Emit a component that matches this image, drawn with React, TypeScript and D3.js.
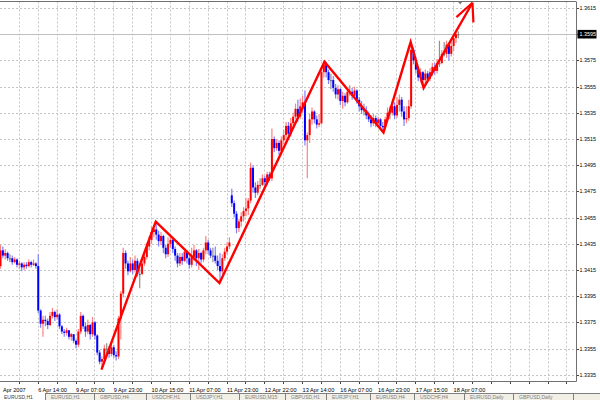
import React from "react";
import * as d3 from "d3";

// ---- data (EURUSD H1) ----
const opens = [
  1.3418, 1.3430, 1.3426, 1.3428, 1.3424, 1.3424, 1.3421, 1.3423, 1.3419, 1.3420,
  1.3417, 1.3419, 1.3418, 1.3421, 1.3419, 1.3420, 1.3418, 1.3384, 1.3374, 1.3377,
  1.3376, 1.3373, 1.3380, 1.3383, 1.3379, 1.3381, 1.3372, 1.3368, 1.3367, 1.3369,
  1.3364, 1.3366, 1.3361, 1.3358, 1.3368, 1.3380, 1.3372, 1.3368, 1.3373, 1.3366,
  1.3375, 1.3365, 1.3352, 1.3345, 1.3347, 1.3355, 1.3355, 1.3351, 1.3356, 1.3350,
  1.3349, 1.3378, 1.3397, 1.3428, 1.3420, 1.3414, 1.3420, 1.3415, 1.3422, 1.3412,
  1.3412, 1.3420, 1.3425, 1.3433, 1.3438, 1.3444, 1.3446, 1.3442, 1.3437, 1.3441,
  1.3432, 1.3427, 1.3435, 1.3438, 1.3431, 1.3426, 1.3420, 1.3425, 1.3422, 1.3429,
  1.3424, 1.3419, 1.3425, 1.3430, 1.3424, 1.3428, 1.3423, 1.3430, 1.3436, 1.3430,
  1.3426, 1.3426, 1.3422, 1.3418, 1.3414, 1.3424, 1.3429, 1.3433, 1.3472, 1.3466,
  1.3458, 1.3447, 1.3452, 1.3456, 1.3460, 1.3462, 1.3468, 1.3493, 1.3478, 1.3474,
  1.3480, 1.3480, 1.3485, 1.3482, 1.3488, 1.3485, 1.3515, 1.3508, 1.3512, 1.3506,
  1.3514, 1.3518, 1.3525, 1.3519, 1.3527, 1.3532, 1.3538, 1.3532, 1.3540, 1.3543,
  1.3514, 1.3518, 1.3530, 1.3536, 1.3530, 1.3526, 1.3527, 1.3566, 1.3572, 1.3566,
  1.3560, 1.3560, 1.3554, 1.3549, 1.3553, 1.3544, 1.3548, 1.3543, 1.3551, 1.3551,
  1.3548, 1.3552, 1.3545, 1.3540, 1.3537, 1.3537, 1.3533, 1.3530, 1.3527, 1.3531,
  1.3527, 1.3530, 1.3525, 1.3524, 1.3530, 1.3535, 1.3535, 1.3540, 1.3533, 1.3541,
  1.3545, 1.3536, 1.3530, 1.3531, 1.3540, 1.3583, 1.3575, 1.3568, 1.3562, 1.3566,
  1.3560, 1.3565, 1.3561, 1.3566, 1.3570, 1.3567, 1.3573, 1.3573, 1.3580, 1.3580,
  1.3587, 1.3580, 1.3586, 1.3592, 1.3595,
];
const highs = [
  1.3434, 1.3433, 1.3431, 1.3429, 1.3427, 1.3426, 1.3425, 1.3424, 1.3422, 1.3421,
  1.3421, 1.3421, 1.3423, 1.3422, 1.3423, 1.3421, 1.3427, 1.3385, 1.3380, 1.3380,
  1.3378, 1.3383, 1.3386, 1.3384, 1.3385, 1.3382, 1.3373, 1.3370, 1.3371, 1.3369,
  1.3367, 1.3366, 1.3362, 1.3370, 1.3383, 1.3381, 1.3375, 1.3377, 1.3374, 1.3379,
  1.3376, 1.3366, 1.3354, 1.3349, 1.3358, 1.3359, 1.3357, 1.3360, 1.3358, 1.3353,
  1.3380, 1.3399, 1.3432, 1.3430, 1.3422, 1.3425, 1.3423, 1.3426, 1.3424, 1.3417,
  1.3424, 1.3428, 1.3436, 1.3441, 1.3448, 1.3449, 1.3452, 1.3445, 1.3444, 1.3442,
  1.3434, 1.3440, 1.3441, 1.3439, 1.3433, 1.3428, 1.3428, 1.3428, 1.3431, 1.3430,
  1.3426, 1.3432, 1.3434, 1.3431, 1.3431, 1.3429, 1.3432, 1.3441, 1.3438, 1.3432,
  1.3432, 1.3433, 1.3426, 1.3428, 1.3427, 1.3432, 1.3436, 1.3440, 1.3477, 1.3468,
  1.3460, 1.3454, 1.3459, 1.3463, 1.3470, 1.3470, 1.3497, 1.3495, 1.3482, 1.3483,
  1.3485, 1.3488, 1.3487, 1.3490, 1.3490, 1.3523, 1.3517, 1.3515, 1.3514, 1.3517,
  1.3522, 1.3528, 1.3528, 1.3531, 1.3535, 1.3542, 1.3545, 1.3546, 1.3548, 1.3552,
  1.3520, 1.3534, 1.3539, 1.3537, 1.3533, 1.3534, 1.3570, 1.3575, 1.3574, 1.3568,
  1.3565, 1.3563, 1.3557, 1.3556, 1.3554, 1.3551, 1.3550, 1.3554, 1.3556, 1.3554,
  1.3555, 1.3553, 1.3547, 1.3544, 1.3542, 1.3540, 1.3536, 1.3533, 1.3534, 1.3533,
  1.3532, 1.3531, 1.3528, 1.3532, 1.3539, 1.3540, 1.3544, 1.3543, 1.3547, 1.3549,
  1.3547, 1.3540, 1.3540, 1.3545, 1.3589, 1.3585, 1.3578, 1.3570, 1.3569, 1.3567,
  1.3568, 1.3567, 1.3569, 1.3573, 1.3573, 1.3576, 1.3590, 1.3583, 1.3589, 1.3590,
  1.3588, 1.3589, 1.3595, 1.3597, 1.3597,
];
const lows = [
  1.3416, 1.3424, 1.3423, 1.3422, 1.3421, 1.3419, 1.3420, 1.3417, 1.3416, 1.3414,
  1.3415, 1.3416, 1.3417, 1.3417, 1.3418, 1.3416, 1.3382, 1.3371, 1.3364, 1.3372,
  1.3370, 1.3372, 1.3378, 1.3376, 1.3377, 1.3370, 1.3366, 1.3364, 1.3365, 1.3362,
  1.3361, 1.3359, 1.3355, 1.3356, 1.3366, 1.3370, 1.3364, 1.3366, 1.3362, 1.3364,
  1.3362, 1.3350, 1.3343, 1.3339, 1.3344, 1.3351, 1.3348, 1.3349, 1.3348, 1.3346,
  1.3347, 1.3362, 1.3394, 1.3416, 1.3411, 1.3413, 1.3412, 1.3413, 1.3410, 1.3401,
  1.3411, 1.3418, 1.3423, 1.3430, 1.3435, 1.3440, 1.3438, 1.3433, 1.3434, 1.3428,
  1.3424, 1.3425, 1.3432, 1.3428, 1.3422, 1.3417, 1.3418, 1.3419, 1.3421, 1.3420,
  1.3416, 1.3417, 1.3422, 1.3418, 1.3415, 1.3420, 1.3421, 1.3427, 1.3427, 1.3424,
  1.3421, 1.3420, 1.3415, 1.3405, 1.3412, 1.3422, 1.3427, 1.3431, 1.3463, 1.3455,
  1.3443, 1.3444, 1.3448, 1.3452, 1.3456, 1.3457, 1.3466, 1.3474, 1.3470, 1.3472,
  1.3477, 1.3479, 1.3479, 1.3480, 1.3483, 1.3483, 1.3505, 1.3506, 1.3503, 1.3504,
  1.3511, 1.3515, 1.3516, 1.3517, 1.3523, 1.3530, 1.3528, 1.3530, 1.3535, 1.3510,
  1.3485, 1.3512, 1.3526, 1.3527, 1.3523, 1.3524, 1.3526, 1.3562, 1.3562, 1.3557,
  1.3553, 1.3551, 1.3546, 1.3545, 1.3541, 1.3538, 1.3540, 1.3542, 1.3548, 1.3545,
  1.3546, 1.3542, 1.3536, 1.3534, 1.3533, 1.3530, 1.3528, 1.3524, 1.3525, 1.3524,
  1.3524, 1.3523, 1.3520, 1.3522, 1.3528, 1.3530, 1.3533, 1.3530, 1.3531, 1.3536,
  1.3532, 1.3525, 1.3527, 1.3529, 1.3538, 1.3572, 1.3565, 1.3559, 1.3558, 1.3555,
  1.3557, 1.3558, 1.3559, 1.3563, 1.3564, 1.3565, 1.3570, 1.3572, 1.3578, 1.3577,
  1.3575, 1.3578, 1.3582, 1.3588, 1.3592,
];
const closes = [
  1.3430, 1.3426, 1.3428, 1.3424, 1.3424, 1.3421, 1.3423, 1.3419, 1.3420, 1.3417,
  1.3419, 1.3418, 1.3421, 1.3419, 1.3420, 1.3418, 1.3384, 1.3374, 1.3377, 1.3376,
  1.3373, 1.3380, 1.3383, 1.3379, 1.3381, 1.3372, 1.3368, 1.3367, 1.3369, 1.3364,
  1.3366, 1.3361, 1.3358, 1.3368, 1.3380, 1.3372, 1.3368, 1.3373, 1.3366, 1.3375,
  1.3365, 1.3352, 1.3345, 1.3347, 1.3355, 1.3355, 1.3351, 1.3356, 1.3350, 1.3349,
  1.3378, 1.3397, 1.3428, 1.3420, 1.3414, 1.3420, 1.3415, 1.3422, 1.3412, 1.3412,
  1.3420, 1.3425, 1.3433, 1.3438, 1.3444, 1.3446, 1.3442, 1.3437, 1.3441, 1.3432,
  1.3427, 1.3435, 1.3438, 1.3431, 1.3426, 1.3420, 1.3425, 1.3422, 1.3429, 1.3424,
  1.3419, 1.3425, 1.3430, 1.3424, 1.3428, 1.3423, 1.3430, 1.3436, 1.3430, 1.3426,
  1.3426, 1.3422, 1.3418, 1.3414, 1.3424, 1.3429, 1.3433, 1.3436, 1.3466, 1.3458,
  1.3447, 1.3452, 1.3456, 1.3460, 1.3462, 1.3468, 1.3493, 1.3478, 1.3474, 1.3480,
  1.3480, 1.3485, 1.3482, 1.3488, 1.3485, 1.3515, 1.3508, 1.3512, 1.3506, 1.3514,
  1.3518, 1.3525, 1.3519, 1.3527, 1.3532, 1.3538, 1.3532, 1.3540, 1.3543, 1.3514,
  1.3518, 1.3530, 1.3536, 1.3530, 1.3526, 1.3527, 1.3566, 1.3572, 1.3566, 1.3560,
  1.3560, 1.3554, 1.3549, 1.3553, 1.3544, 1.3548, 1.3543, 1.3551, 1.3551, 1.3548,
  1.3552, 1.3545, 1.3540, 1.3537, 1.3537, 1.3533, 1.3530, 1.3527, 1.3531, 1.3527,
  1.3530, 1.3525, 1.3524, 1.3530, 1.3535, 1.3535, 1.3540, 1.3533, 1.3541, 1.3545,
  1.3536, 1.3530, 1.3531, 1.3540, 1.3583, 1.3575, 1.3568, 1.3562, 1.3566, 1.3560,
  1.3565, 1.3561, 1.3566, 1.3570, 1.3567, 1.3573, 1.3573, 1.3580, 1.3580, 1.3587,
  1.3580, 1.3586, 1.3592, 1.3595, 1.3595,
];

const priceTicks = [
  1.3335, 1.3355, 1.3375, 1.3395, 1.3415, 1.3435, 1.3455, 1.3475,
  1.3495, 1.3515, 1.3535, 1.3555, 1.3575, 1.3595, 1.3615,
];
const dateLabels = [
  "Apr 2007", "6 Apr 14:00", "9 Apr 07:00", "9 Apr 23:00", "10 Apr 15:00",
  "11 Apr 07:00", "11 Apr 23:00", "12 Apr 22:00", "13 Apr 14:00",
  "16 Apr 07:00", "16 Apr 23:00", "17 Apr 15:00", "18 Apr 07:00",
];
const dateLabelBars = [0, 16, 32, 48, 64, 80, 96, 112, 128, 144, 160, 176, 192];
const gridBars = d3.range(8, 244, 8);

const zigzagBars = [43, 66, 93, 137.5, 162.5, 174, 179.5, 200.2];
const zigzagPrices = [1.3339, 1.3452, 1.3405, 1.3574, 1.3520, 1.3589, 1.3554, 1.3619];
const arrowBars = [193.4, 200.6];
const arrowPrices = [1.3608, 1.3604];
const bidPrice = 1.3595;
const tabLabels = [
  "EURUSD,H1", "GBPUSD,H4", "USDCHF,H1", "USDJPY,H1", "EURUSD,M15", "GBPUSD,H1",
  "EURJPY,H1", "EURUSD,H4", "USDCHF,H4", "EURUSD,Daily", "GBPUSD,Daily", "USDJPY,H4",
];
const tabEdges = [45, 94, 146, 190, 239, 285, 326, 370, 414, 464, 513, 573, 610];

export default function App() {
  const W = 600, H = 400;
  const plotRight = 576, plotBottom = 381, plotTop = 1.5;
  const x = d3.scaleLinear().domain([0, 244]).range([0, 575.84]);
  const y = d3.scaleLinear().domain([1.3335, 1.3615]).range([374.8, 8]);
  const snap = (v: number) => Math.round(v) + 0.5;
  const font = "Tahoma, 'Liberation Sans', Arial, sans-serif";

  const zz = d3.line<number>().x((_, i) => x(zigzagBars[i])).y((_, i) => y(zigzagPrices[i]))(zigzagBars.map((_, i) => i)) as string;
  const tipX = x(zigzagBars[zigzagBars.length - 1]);
  const tipY = y(zigzagPrices[zigzagPrices.length - 1]);

  return (
    <svg width={W} height={H} style={{ position: "absolute", left: 0, top: 0, background: "#fff" }}>
      {/* grid */}
      <g stroke="#c4c4c4" strokeWidth={1} strokeDasharray="2 2">
        {priceTicks.map((p) => (
          <line key={"h" + p} x1={0} x2={plotRight} y1={snap(y(p))} y2={snap(y(p))} />
        ))}
        {gridBars.map((b) => (
          <line key={"v" + b} x1={snap(x(b))} x2={snap(x(b))} y1={plotTop} y2={plotBottom} />
        ))}
      </g>
      {/* bid line */}
      <line x1={0} x2={plotRight} y1={snap(y(bidPrice))} y2={snap(y(bidPrice))} stroke="#c0c0c0" strokeWidth={1} />

      {/* candles */}
      <g>
        {closes.map((c, i) => {
          const o = opens[i];
          const hi = Math.max(highs[i], o, c);
          const lo = Math.min(lows[i], o, c);
          const cx = x(i) + 0.5;
          const up = c > o, down = c < o;
          const col = up ? "#ff0000" : down ? "#0000ff" : "#707070";
          const wick = up ? "#ff8080" : down ? "#8080ff" : "#909090";
          const yt = y(Math.max(o, c));
          const yb = y(Math.min(o, c));
          return (
            <g key={i}>
              <line x1={cx} x2={cx} y1={y(hi)} y2={y(lo)} stroke={wick} strokeWidth={1.2} />
              <rect x={cx - 1} width={2} y={yt} height={Math.max(1.2, yb - yt)} fill={col} />
            </g>
          );
        })}
      </g>

      {/* zigzag trend lines */}
      <path d={zz} fill="none" stroke="#ff0000" strokeWidth={2.4} strokeLinejoin="miter" />
      {arrowBars.map((b, i) => (
        <line key={"a" + i} x1={tipX} y1={tipY} x2={x(b)} y2={y(arrowPrices[i])} stroke="#ff0000" strokeWidth={2.2} />
      ))}

      {/* frame */}
      <line x1={0} x2={plotRight} y1={plotTop} y2={plotTop} stroke="#707070" strokeWidth={1} />
      <line x1={plotRight + 0.5} x2={plotRight + 0.5} y1={plotTop} y2={plotBottom + 0.5} stroke="#707070" strokeWidth={1} />
      <line x1={0} x2={plotRight + 0.5} y1={plotBottom + 0.5} y2={plotBottom + 0.5} stroke="#707070" strokeWidth={1} />
      <path d={`M${x(195) - 2},2 L${x(195) + 2},2 L${x(195)},4.5 Z`} fill="#808080" />

      {/* right price axis */}
      {priceTicks.map((p) => (
        <g key={"t" + p}>
          <line x1={plotRight + 1} x2={plotRight + 3} y1={snap(y(p))} y2={snap(y(p))} stroke="#404040" />
          <text x={579.5} y={y(p) + 2} fontSize={5.4} fontFamily={font} fill="#000">{p.toFixed(4)}</text>
        </g>
      ))}
      <rect x={577.5} y={y(bidPrice) - 4.3} width={19} height={8.6} fill="#000" />
      <text x={579.5} y={y(bidPrice) + 2} fontSize={5.4} fontFamily={font} fill="#fff">{bidPrice.toFixed(4)}</text>

      {/* bottom time axis */}
      {gridBars.map((b) => (
        <line key={"bt" + b} x1={snap(x(b))} x2={snap(x(b))} y1={plotBottom + 1} y2={plotBottom + 3} stroke="#404040" />
      ))}
      {dateLabels.map((t, i) => (
        <text key={t} x={i === 0 ? 3 : x(dateLabelBars[i]) + 0.5} y={392} fontSize={5.6} fontFamily={font} fill="#000">{t}</text>
      ))}

      {/* tab strip */}
      <rect x={0} y={393} width={W} height={7} fill="#ffffff" />
      <text x={4} y={399.3} fontSize={5} fontFamily={font} fill="#404040">EURUSD,H1</text>
      <rect x={tabEdges[0]} y={393} width={W - tabEdges[0]} height={7} fill="#f1efe6" />
      <line x1={tabEdges[0]} x2={W} y1={393.5} y2={393.5} stroke="#808080" />
      {tabEdges.slice(0, -2).map((e, i) => (
        <g key={"tab" + i}>
          <line x1={e + 0.5} x2={e + 0.5} y1={393} y2={400} stroke="#808080" />
          <text x={e + 6} y={399.3} fontSize={5} fontFamily={font} fill="#808080">{tabLabels[i]}</text>
        </g>
      ))}
      <line x1={tabEdges[tabEdges.length - 2] + 0.5} x2={tabEdges[tabEdges.length - 2] + 0.5} y1={393} y2={400} stroke="#808080" />
    </svg>
  );
}
